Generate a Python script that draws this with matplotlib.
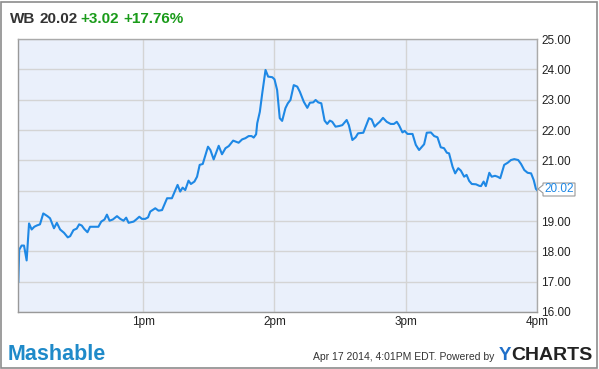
import matplotlib
matplotlib.use("Agg")
import matplotlib.pyplot as plt
from matplotlib.patches import Rectangle, Polygon

# minutes after 12:00pm
times = [2.9, 3.3, 4.4, 5.5, 6.7, 7.8, 9.0, 10.2, 11.3, 12.8, 14.3, 16.2, 17.4, 19.2, 20.5,
         22.0, 23.8, 25.5, 26.6, 28.1, 29.6, 30.7, 31.9, 33.0, 34.5, 35.7, 38.0, 39.5, 40.8,
         42.3, 43.4, 44.6, 46.1, 48.0, 49.5, 51.0, 52.2, 53.3, 55.6, 56.8, 58.2, 59.4, 60.9,
         62.2, 63.2, 65.5, 67.0, 68.6, 70.9, 73.1, 75.7, 76.9, 78.0, 79.2, 80.7, 81.8, 83.4,
         84.6, 85.8, 87.2, 89.6, 90.7, 92.2, 94.5, 96.0, 97.6, 99.1, 101.1, 103.6, 105.2,
         106.7, 108.2, 109.5, 110.5, 111.6, 112.1, 113.3, 114.4, 115.9, 117.1, 119.0, 120.0,
         121.2, 122.4, 123.5, 125.0, 126.1, 127.3, 128.8, 130.4, 131.6, 133.4, 135.0, 136.2,
         137.7, 138.8, 140.0, 141.4, 142.9, 144.1, 145.3, 146.4, 147.9, 149.5, 151.0, 153.0,
         154.0, 155.6, 157.1, 158.2, 160.6, 161.7, 163.2, 164.4, 165.8, 167.0, 168.1, 169.6,
         171.3, 173.1, 174.6, 175.9, 176.9, 178.5, 179.5, 180.8, 183.1, 184.6, 186.1, 188.4,
         189.6, 191.5, 193.0, 194.5, 196.0, 197.5, 198.8, 199.8, 201.4, 202.6, 204.0, 205.2,
         206.7, 207.8, 209.0, 210.2, 212.1, 213.6, 214.4, 215.6, 216.6, 218.2, 219.3, 220.8,
         222.0, 223.2, 225.0, 226.6, 228.1, 229.6, 231.4, 232.7, 234.2, 235.7, 237.3, 238.5,
         239.5, 240.0]
prices = [17.0, 18.05, 18.19, 18.19, 17.7, 18.92, 18.72, 18.81, 18.85, 18.89, 19.25, 19.16,
          19.09, 18.76, 18.94, 18.72, 18.61, 18.46, 18.5, 18.7, 18.75, 18.89, 18.85, 18.74,
          18.63, 18.81, 18.81, 18.81, 18.98, 19.05, 19.21, 19.01, 19.05, 19.16, 19.07, 19.01,
          19.11, 18.94, 18.98, 19.05, 19.14, 19.07, 19.07, 19.12, 19.31, 19.42, 19.34, 19.36,
          19.75, 19.75, 20.19, 19.97, 20.1, 20.02, 20.33, 20.22, 20.3, 20.46, 20.85, 20.88,
          21.45, 21.34, 21.03, 21.48, 21.2, 21.4, 21.47, 21.65, 21.58, 21.69, 21.73, 21.8,
          21.8, 21.75, 21.86, 22.22, 22.6, 23.21, 23.98, 23.76, 23.74, 23.67, 23.32, 22.39,
          22.3, 22.72, 22.88, 22.99, 23.48, 23.43, 23.26, 22.93, 22.73, 22.9, 22.91, 22.99,
          22.91, 22.88, 22.31, 22.2, 22.31, 22.27, 22.11, 22.13, 22.16, 22.33, 22.16, 21.67,
          21.76, 21.89, 21.91, 22.11, 22.39, 22.35, 22.11, 22.2, 22.27, 22.4, 22.27, 22.2,
          22.2, 22.27, 22.16, 21.92, 21.97, 21.87, 21.87, 21.51, 21.34, 21.53, 21.91, 21.92,
          21.8, 21.76, 21.43, 21.4, 21.25, 21.23, 20.79, 20.57, 20.74, 20.66, 20.46, 20.52,
          20.32, 20.22, 20.21, 20.16, 20.15, 20.3, 20.15, 20.59, 20.46, 20.49, 20.46, 20.41,
          20.85, 20.92, 21.01, 21.04, 21.01, 20.88, 20.68, 20.59, 20.57, 20.35, 20.06, 20.02]

x_ticks = [60, 120, 180, 240]
x_labels = ["1pm", "2pm", "3pm", "4pm"]
y_ticks = [16, 17, 18, 19, 20, 21, 22, 23, 24, 25]

ticker = "WB"
last_price = 20.02
change = "+3.02"
change_pct = "+17.76%"

W, H = 599, 369
fig = plt.figure(figsize=(W / 100, H / 100), dpi=100)
fig.patch.set_facecolor("white")
plt.rcParams['font.family'] = ['Liberation Sans', 'DejaVu Sans']

ax = fig.add_axes([18 / W, 1 - 312 / H, (537 - 18) / W, (312 - 39) / H])
ax.set_facecolor("#EAF0FB")
ax.plot(times, prices, color="#1E88E5", lw=1.5, solid_joinstyle="round")
ax.set_xlim(2.75, 240)
ax.set_ylim(16, 25)
ax.set_xticks(x_ticks)
ax.set_xticklabels(x_labels)
ax.set_yticks(y_ticks)
# the 20.00 label is covered by the last-price tag in the reference
ax.set_yticklabels(["" if abs(v - last_price) < 0.3 else f"{v:.2f}" for v in y_ticks])
ax.yaxis.tick_right()
ax.tick_params(axis="both", length=0, labelsize=8.5, colors="#222222")
ax.tick_params(axis="y", pad=3)
ax.tick_params(axis="x", pad=3)
ax.grid(True, color="#D4D4D4", lw=1)
ax.set_axisbelow(True)
for s in ["left", "bottom"]:
    ax.spines[s].set_color("#999999")
    ax.spines[s].set_linewidth(1)
for s in ["top", "right"]:
    ax.spines[s].set_color("#AAAAAA")
    ax.spines[s].set_linewidth(1)

# value tag at right
ty = 1 - 189 / H
fig.patches.append(Polygon([(538 / W, ty), (543 / W, ty + 4 / H), (543 / W, 1 - 183 / H),
                            (575 / W, 1 - 183 / H), (575 / W, 1 - 196 / H),
                            (543 / W, 1 - 196 / H), (543 / W, ty - 4 / H)],
                           closed=True, transform=fig.transFigure, facecolor="white",
                           edgecolor="#999999", lw=0.8))
fig.text(559 / W, ty, f"{last_price:.2f}", color="#1E88E5", fontsize=8.5,
         ha="center", va="center")

# header
hy = 1 - 19 / H
fig.text(10 / W, hy, ticker, fontsize=11, fontweight="bold", color="#333333", va="center")
fig.text(39 / W, hy, f"{last_price:.2f}", fontsize=11, fontweight="bold", color="#333333", va="center")
fig.text(80 / W, hy, change, fontsize=11, fontweight="bold", color="#1A9B1A", va="center")
fig.text(123 / W, hy, change_pct, fontsize=11, fontweight="bold", color="#1A9B1A", va="center")

# footer
fy = 1 - 355 / H
fig.text(8 / W, fy, "Mashable", fontsize=15.5, fontweight="bold", color="#1F8AC9", va="center")
fig.text(494 / W, 1 - 357 / H, "Apr 17 2014, 4:01PM EDT. Powered by", fontsize=7.5,
         color="#333333", va="center", ha="right")
fig.text(499 / W, 1 - 356 / H, "Y", fontsize=13.5, fontweight="bold", color="#1F6FC9", va="center")
fig.text(511 / W, 1 - 356 / H, "CHARTS", fontsize=14, fontweight="bold", color="#222222",
         va="center")

# outer frame
fig.patches.append(Rectangle((0.5 / W, 1.5 / H), 596.5 / W, 366 / H, transform=fig.transFigure,
                             fill=False, edgecolor="#8C8C8C", lw=1.2))

fig.savefig("out.png", dpi=100)
